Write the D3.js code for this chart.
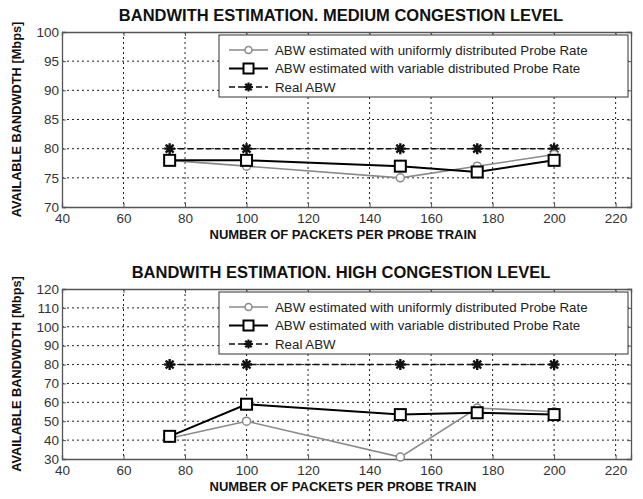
<!DOCTYPE html>
<html><head><meta charset="utf-8">
<script src="https://cdn.jsdelivr.net/npm/d3@7"></script>
<style>body{margin:0;background:#fff;} svg{display:block;}</style>
</head><body>
<svg id="chart" width="643" height="499"></svg>
<script>
const packets = [75, 100, 150, 175, 200];
const xTicks = [40, 60, 80, 100, 120, 140, 160, 180, 200, 220];

const titleMedium = "BANDWITH ESTIMATION. MEDIUM CONGESTION LEVEL";
const mediumUniform = [78, 77, 75, 77, 79];
const mediumVariable = [78, 78, 77, 76, 78];
const mediumReal = [80, 80, 80, 80, 80];
const mediumYTicks = [70, 75, 80, 85, 90, 95, 100];

const titleHigh = "BANDWITH ESTIMATION. HIGH CONGESTION LEVEL";
const highUniform = [41, 50, 31, 57, 55];
const highVariable = [42, 59, 53.5, 54.5, 53.5];
const highReal = [80, 80, 80, 80, 80];
const highYTicks = [30, 40, 50, 60, 70, 80, 90, 100, 110, 120];

const legendLabels = [
  "ABW estimated with uniformly distributed Probe Rate",
  "ABW estimated with variable distributed Probe Rate",
  "Real ABW"
];
const xLabel = "NUMBER OF PACKETS PER PROBE TRAIN";
const yLabel = "AVAILABLE BANDWDTH [Mbps]";

const svg = d3.select("#chart");
const FONT = "'Liberation Sans', Arial, sans-serif";

function starPath(s) {
  const d = s * 0.72;
  return `M${-s},0L${s},0M0,${-s}L0,${s}M${-d},${-d}L${d},${d}M${-d},${d}L${d},${-d}`;
}

function panel(cfg) {
  const L = 62, R = 631, T = cfg.top, B = cfg.bottom;
  const x = d3.scaleLinear().domain([40, 225]).range([L, R]);
  const y = d3.scaleLinear().domain([cfg.yTicks[0], cfg.yTicks[cfg.yTicks.length - 1]]).range([B, T]);
  const g = svg.append("g");

  // title
  g.append("text").attr("x", 341).attr("y", T - 11).attr("text-anchor", "middle")
    .attr("font-family", FONT).attr("font-size", 16.5).attr("font-weight", "bold").attr("fill", "#111")
    .text(cfg.title);

  // grid
  const grid = g.append("g").attr("stroke", "#222").attr("stroke-width", 1).attr("stroke-dasharray", "2,3");
  grid.selectAll("line.gx").data(xTicks.slice(1)).enter().append("line")
    .attr("x1", d => x(d)).attr("x2", d => x(d)).attr("y1", T).attr("y2", B);
  grid.selectAll("line.gy").data(cfg.yTicks.slice(1, -1)).enter().append("line")
    .attr("x1", L).attr("x2", R).attr("y1", d => y(d)).attr("y2", d => y(d));

  // axes with d3
  const xAxis = g.append("g").attr("transform", `translate(0,${B})`)
    .call(d3.axisBottom(x).tickValues(xTicks).tickSize(-4).tickPadding(6));
  const yAxis = g.append("g").attr("transform", `translate(${L},0)`)
    .call(d3.axisLeft(y).tickValues(cfg.yTicks).tickSize(-4).tickPadding(3));
  g.append("g").attr("transform", `translate(0,${T})`)
    .call(d3.axisTop(x).tickValues(xTicks).tickSize(-4).tickFormat(""));
  g.append("g").attr("transform", `translate(${R},0)`)
    .call(d3.axisRight(y).tickValues(cfg.yTicks).tickSize(-4).tickFormat(""));
  g.selectAll(".domain").attr("stroke", "#555").attr("stroke-width", 1.3);
  g.selectAll(".tick line").attr("stroke", "#555");
  [xAxis, yAxis].forEach(a => a.selectAll("text").attr("font-family", FONT).attr("font-size", 13.5).attr("fill", "#333"));
  yAxis.selectAll("text").attr("dy", "0.32em");
  xAxis.selectAll("text").attr("dy", "0.75em");

  // axis labels
  g.append("text").attr("x", 343).attr("y", B + 32).attr("text-anchor", "middle")
    .attr("font-family", FONT).attr("font-size", 13).attr("font-weight", "bold").attr("fill", "#111")
    .text(xLabel);
  g.append("text").attr("transform", `translate(21,${(T + B) / 2}) rotate(-90)`).attr("text-anchor", "middle")
    .attr("font-family", FONT).attr("font-size", 12.8).attr("font-weight", "bold").attr("fill", "#111")
    .text(yLabel);

  const line = d3.line().x((d, i) => x(packets[i])).y(d => y(d));

  // real
  g.append("path").datum(cfg.real).attr("d", line).attr("fill", "none")
    .attr("stroke", "#111").attr("stroke-width", 1.5).attr("stroke-dasharray", "6,3");
  g.selectAll("path.star").data(cfg.real).enter().append("path")
    .attr("transform", (d, i) => `translate(${x(packets[i])},${y(d)})`)
    .attr("d", starPath(5.5)).attr("stroke", "#111").attr("stroke-width", 2.4).attr("fill", "none");

  // uniform
  g.append("path").datum(cfg.uniform).attr("d", line).attr("fill", "none")
    .attr("stroke", "#8a8a8a").attr("stroke-width", 1.6);
  g.selectAll("circle.u").data(cfg.uniform).enter().append("circle")
    .attr("cx", (d, i) => x(packets[i])).attr("cy", d => y(d)).attr("r", 4)
    .attr("fill", "#fff").attr("stroke", "#8a8a8a").attr("stroke-width", 1.5);

  // variable
  g.append("path").datum(cfg.variable).attr("d", line).attr("fill", "none")
    .attr("stroke", "#000").attr("stroke-width", 2);
  g.selectAll("rect.v").data(cfg.variable).enter().append("rect")
    .attr("x", (d, i) => x(packets[i]) - 5.5).attr("y", d => y(d) - 5.5)
    .attr("width", 11).attr("height", 11)
    .attr("fill", "#fff").attr("stroke", "#000").attr("stroke-width", 2);

  // legend
  const lx = 219, ly = T + 3, lw = 409, lh = 62;
  const lg = g.append("g");
  lg.append("rect").attr("x", lx).attr("y", ly).attr("width", lw).attr("height", lh)
    .attr("fill", "#fff").attr("stroke", "#333").attr("stroke-width", 1);
  const rows = [
    {stroke: "#8a8a8a", w: 1.6, dash: null, mk: "circle"},
    {stroke: "#000", w: 2, dash: null, mk: "square"},
    {stroke: "#111", w: 1.5, dash: "6,3", mk: "star"}
  ];
  rows.forEach((r, i) => {
    const cy = ly + 15 + i * 18.5;
    lg.append("line").attr("x1", lx + 10).attr("x2", lx + 49).attr("y1", cy).attr("y2", cy)
      .attr("stroke", r.stroke).attr("stroke-width", r.w).attr("stroke-dasharray", r.dash);
    const cx = lx + 29.5;
    if (r.mk === "circle") lg.append("circle").attr("cx", cx).attr("cy", cy).attr("r", 3.5)
      .attr("fill", "#fff").attr("stroke", r.stroke).attr("stroke-width", 1.5);
    else if (r.mk === "square") lg.append("rect").attr("x", cx - 5).attr("y", cy - 5).attr("width", 10).attr("height", 10)
      .attr("fill", "#fff").attr("stroke", "#000").attr("stroke-width", 2);
    else lg.append("path").attr("transform", `translate(${cx},${cy})`).attr("d", starPath(4.5))
      .attr("stroke", "#111").attr("stroke-width", 2.2).attr("fill", "none");
    lg.append("text").attr("x", lx + 56).attr("y", cy).attr("dy", "0.35em")
      .attr("font-family", FONT).attr("font-size", 13.3).attr("fill", "#222").text(legendLabels[i]);
  });
}

panel({top: 32, bottom: 207, title: titleMedium, yTicks: mediumYTicks,
  uniform: mediumUniform, variable: mediumVariable, real: mediumReal});
panel({top: 289, bottom: 459, title: titleHigh, yTicks: highYTicks,
  uniform: highUniform, variable: highVariable, real: highReal});
</script>
</body></html>
